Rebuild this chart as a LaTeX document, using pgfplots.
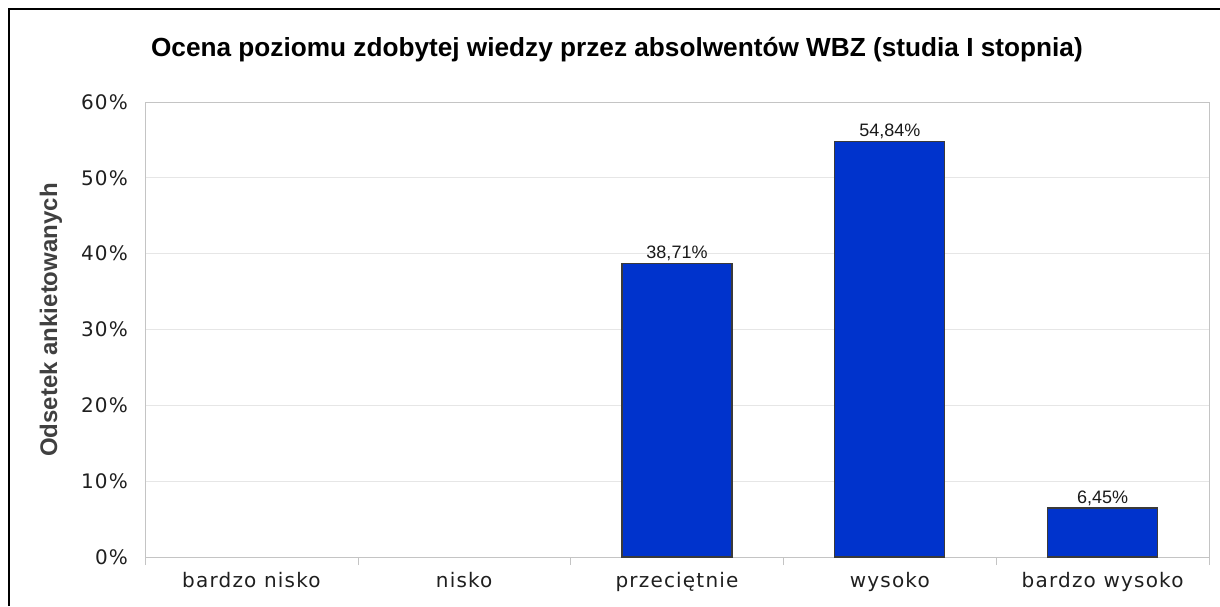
\documentclass[border=0pt]{standalone}
\usepackage{pgfplots}
\pgfplotsset{compat=1.18}
\usepackage{fontspec}
\setmainfont{Liberation Sans}
\newfontfamily\tickfont[LetterSpace=6]{DejaVu Sans}
\definecolor{barblue}{HTML}{0033CC}
\definecolor{bardark}{HTML}{3A3A3A}
\definecolor{gridgray}{HTML}{E6E6E6}
\definecolor{axisgray}{HTML}{C4C4C4}
\definecolor{labgray}{HTML}{404040}
\begin{document}
\begin{tikzpicture}
\path[use as bounding box] (0,0) rectangle (610pt,303pt);
\draw[line width=1pt] (4.5pt,0) -- (4.5pt,298.5pt) -- (610pt,298.5pt);
\node[anchor=base west, font=\fontsize{13.1}{15}\selectfont\bfseries] at (72pt,274.5pt)
  {Ocena poziomu zdobytej wiedzy przez absolwentów WBZ (studia I stopnia)};
\node[rotate=90, font=\fontsize{12}{14}\selectfont\bfseries, text=labgray] at (25.5pt,143pt)
  {Odsetek ankietowanych};
\begin{axis}[
  at={(72.5pt,24.5pt)}, anchor=south west,
  width=532pt, height=227.5pt, scale only axis,
  xmin=-0.5, xmax=4.5, ymin=0, ymax=60,
  ybar, bar width=55pt,
  axis line style={draw=axisgray},
  xtick pos=bottom, ytick pos=left,
  ytick={0,10,20,30,40,50,60},
  yticklabels={0\%,10\%,20\%,30\%,40\%,50\%,60\%},
  xtick={0,1,2,3,4},
  xticklabels={bardzo nisko,nisko,przeciętnie,wysoko,bardzo wysoko},
  minor xtick={-0.5,0.5,1.5,2.5,3.5,4.5},
  major tick length=0pt, minor tick length=4pt,
  tick align=outside, tick style={draw=axisgray},
  ymajorgrids, grid style={draw=gridgray},
  tick label style={font=\tickfont\fontsize{10}{12}\selectfont, text=black!88},
  xticklabel style={yshift=-4pt},
  yticklabel style={xshift=-5pt},
  clip=false,
]
\addplot[fill=barblue, draw=bardark, line width=0.6pt,
  nodes near coords, point meta=explicit symbolic,
  every node near coord/.style={font=\fontsize{9}{10}\selectfont, text=black!90, inner sep=1pt}]
  coordinates {(2,38.71) [38,71\%] (3,54.84) [54,84\%] (4,6.45) [6,45\%]};
\end{axis}
\end{tikzpicture}
\end{document}
